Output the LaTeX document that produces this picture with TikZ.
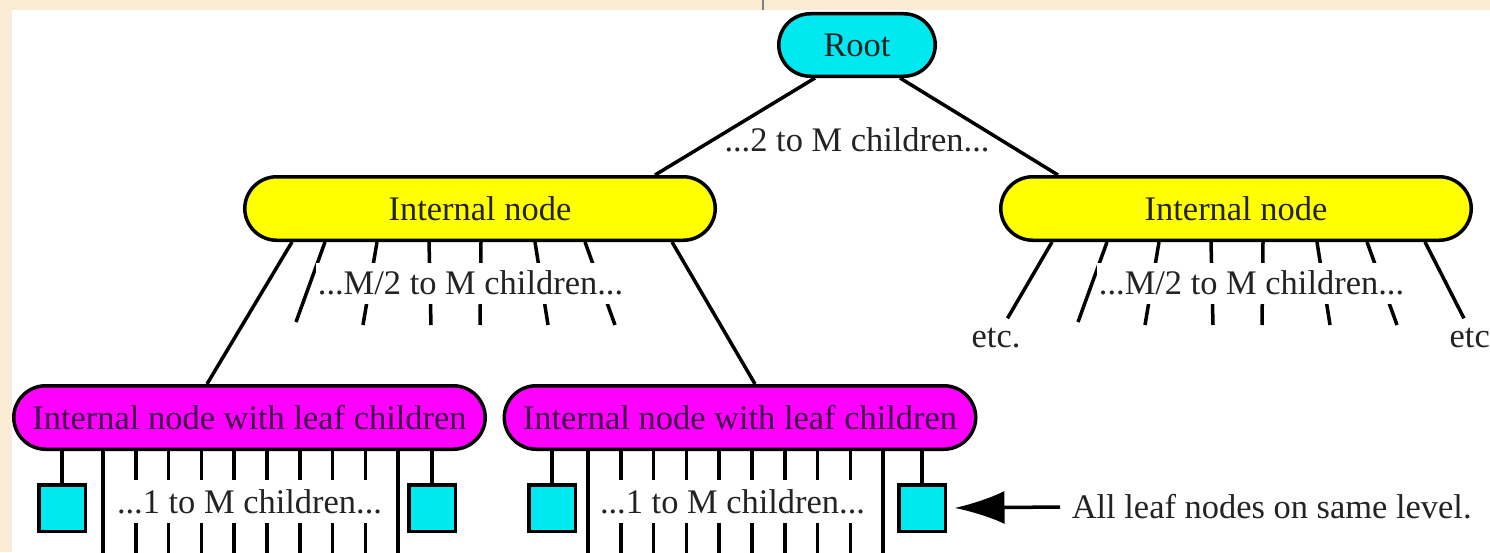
\documentclass[tikz,border=0pt]{standalone}
\usepackage{fontspec}
\setmainfont{Liberation Serif}
\usepackage{xcolor}
\usepackage{tikz}
\usetikzlibrary{shapes,arrows.meta,calc}

\definecolor{parch}{RGB}{250,236,212}
\definecolor{rootcyan}{RGB}{0,232,240}
\definecolor{intyellow}{RGB}{255,255,0}
\definecolor{leafmag}{RGB}{255,0,255}
\definecolor{ink}{RGB}{35,35,35}
\definecolor{magink}{RGB}{60,0,70}

\begin{document}
\begin{tikzpicture}[x=0.2mm, y=-0.2mm, >={Latex[length=10mm,width=6.6mm]},
  font=\fontsize{19.6}{23}\selectfont, line width=0.7mm, text=ink]
\tikzset{%
  rootnode/.style = {%
    draw,
    fill = rootcyan,
    rounded corners = 6.3mm,
    minimum width = 31.3mm,
    minimum height = 12.5mm
  },
  internal/.style = {%
    draw,
    fill = intyellow,
    rounded corners = 6.4mm,
    minimum width = 94.1mm,
    minimum height = 12.7mm
  },
  bottomint/.style = {%
    internal,
    fill = leafmag,
    text = magink,
    minimum width = 94.3mm
  },
  leaf/.style = {%
    draw,
    fill = rootcyan,
    inner sep = 0pt,
    minimum size = 9.3mm
  },
  fan/.style = {%
    fill = white,
    inner xsep = .3mm,
    inner ysep = 0pt
  }
}

  \useasboundingbox (0,0) rectangle (1490,552);
  \fill[parch] (0,0) rectangle (1490,552);
  \fill[white] (12,10) rectangle (1490,552);
  \draw[gray, line width=.3mm] (763,0) -- (763,10);

  \node[rootnode] (root) at (857,45) {Root};
  \node[internal, node distance=32.7mm, below of=root, xshift=-75.4mm]
    (intl) {Internal node};
  \node[internal, node distance=151.2mm, right of=intl] (intr) {Internal node};
  \node[bottomint, node distance=41.8mm, below of=intl, xshift=-46.1mm]
    (botl) {Internal node with leaf children};
  \node[bottomint, node distance=98.1mm, right of=botl]
    (botr) {Internal node with leaf children};

  \node[leaf] (leafa) at (62,508) {};
  \node[leaf] (leafb) at (432,508) {};
  \node[leaf] (leafc) at (552,508) {};
  \node[leaf] (leafd) at (922,508) {};

  \node (twom) at (857,140) {...2 to M children...};
  \node[inner sep=1.6mm] (etcl) at (996,338) {etc.};
  \node[inner sep=1.6mm] (etcr) at (1474,338) {etc.};

  % root and its children
  \draw (root.south -| 815,0) -- (intl.north -| 655,0);
  \draw (root.south -| 900,0) -- (intr.north -| 1058,0);
  \draw (intl.south -| 292,0) -- (botl.north -| 207,0);
  \draw (intl.south -| 672,0) -- (botr.north -| 755,0);
  \draw (intr.south -| 1052,0) -- (etcl);
  \draw (intr.south -| 1425,0) -- (etcr);

  \foreach \a/\b/\c in {325/296/322, 377/363/325, 429/431/325,
                         481/480/325, 535/548/325, 585/615/325} {
    \draw (intl.south -| \a,0) -- (\b,\c);
    \draw (intr.south -| \a+782,0) -- (\b+782,\c);
  }

  % leaf level
  \foreach \i [evaluate=\i as \xx using 103+32.8*\i] in {0,...,9} {
    \draw (botl.south -| \xx,0) -- (\xx,560);
    \draw (botr.south -| \xx+485,0) -- (\xx+485,560);
  }
  \foreach \l/\p in {leafa/botl, leafb/botl, leafc/botr, leafd/botr}
    \draw (\p.south -| \l) -- (\l);

  \node[fan, minimum height=8.2mm] (fanl) at (470.5,283) {...M/2 to M children...};
  \node[fan, minimum height=8.2mm] (fanr) at (1251.5,283) {...M/2 to M children...};
  \node[fan, minimum height=8.6mm] (onel) at (249.5,501.5) {...1 to M children...};
  \node[fan, minimum height=8.6mm] (oner) at (732.5,501.5) {...1 to M children...};

  \node[anchor=west, inner xsep=2mm] (note) at (1060,507)
    {All leaf nodes on same level.};
  \draw[->, shorten >=1.5mm] (note.west) -- (leafd.east);
\end{tikzpicture}
\end{document}
